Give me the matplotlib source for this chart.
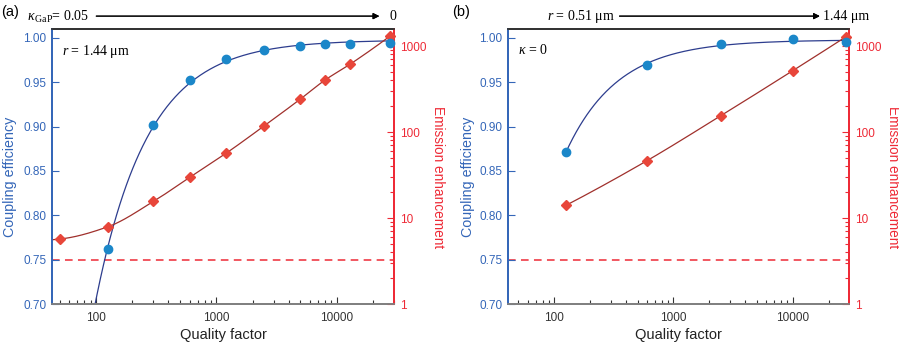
import numpy as np
import matplotlib
matplotlib.use("Agg")
import matplotlib.pyplot as plt
from matplotlib.ticker import FixedLocator, NullFormatter, LogLocator

plt.rcParams['font.family'] = ['Liberation Sans', 'DejaVu Sans']
plt.rcParams['mathtext.fontset'] = 'custom'
plt.rcParams['mathtext.rm'] = 'Liberation Serif'
plt.rcParams['mathtext.it'] = 'Liberation Serif:italic'

# panel (a): r = 1.44 um, kappa swept 0.05 -> 0
q_a = [125, 300, 600, 1200, 2500, 5000, 8000, 13000, 28000]
eff_a = [0.762, 0.902, 0.953, 0.976, 0.986, 0.991, 0.993, 0.993, 0.994]
q_a_em = [50, 125, 300, 600, 1200, 2500, 5000, 8000, 13000, 28000]
enh_a = [5.7, 7.9, 15.6, 29.7, 56.4, 118, 242, 402, 618, 1318]

# panel (b): kappa = 0, r swept 0.51 -> 1.44 um
q_b = [125, 600, 2500, 10000, 28000]
eff_b = [0.871, 0.969, 0.993, 0.9985, 0.995]
enh_b = [14.0, 46.4, 155, 516, 1283]

threshold = 0.75

C_AX_BLUE = '#3466b8'
C_AX_RED = '#ee2a36'
C_DOT_BLUE = '#1b87c9'
C_LINE_BLUE = '#2d3d8e'
C_DOT_RED = '#e8463a'
C_LINE_RED = '#a0302c'


def pchip(x, y, xn):
    # monotone cubic through the points, linear beyond the ends
    x = np.asarray(x, float); y = np.asarray(y, float)
    h = np.diff(x); d = np.diff(y) / h
    n = len(x)
    m = np.zeros(n)
    for k in range(1, n - 1):
        if d[k - 1] * d[k] <= 0:
            m[k] = 0
        else:
            w1 = 2 * h[k] + h[k - 1]; w2 = h[k] + 2 * h[k - 1]
            m[k] = (w1 + w2) / (w1 / d[k - 1] + w2 / d[k])
    def end(h0, h1, d0, d1):
        s = ((2 * h0 + h1) * d0 - h0 * d1) / (h0 + h1)
        if np.sign(s) != np.sign(d0):
            s = 0
        elif np.sign(d0) != np.sign(d1) and abs(s) > abs(3 * d0):
            s = 3 * d0
        return s
    m[0] = end(h[0], h[1], d[0], d[1])
    m[-1] = end(h[-1], h[-2], d[-1], d[-2])
    out = np.empty_like(xn)
    for i, xv in enumerate(xn):
        if xv <= x[0]:
            out[i] = y[0] + m[0] * (xv - x[0]); continue
        if xv >= x[-1]:
            out[i] = y[-1] + m[-1] * (xv - x[-1]); continue
        k = np.searchsorted(x, xv) - 1
        t = (xv - x[k]) / h[k]
        h00 = 2 * t**3 - 3 * t**2 + 1; h10 = t**3 - 2 * t**2 + t
        h01 = -2 * t**3 + 3 * t**2; h11 = t**3 - t**2
        out[i] = h00 * y[k] + h10 * h[k] * m[k] + h01 * y[k + 1] + h11 * h[k] * m[k + 1]
    return out


def fit_eff(q, eff, qn):
    # least squares eff = s - a/Q
    q = np.asarray(q, float)
    A = np.column_stack([np.ones_like(q), -1.0 / q])
    (s, a), *_ = np.linalg.lstsq(A, np.asarray(eff, float), rcond=None)
    return s - a / qn


def panel(rect, q, eff, q_em, enh, x0, x0_em, x1, xlim, lab_x):
    ax = fig.add_axes(rect)
    ax.set_xscale('log')
    ax.set_xlim(*xlim)
    ax.set_ylim(0.70, 1.010)

    qn = np.logspace(np.log10(x0), np.log10(x1), 400)
    ax.plot(qn, fit_eff(q, eff, qn), color=C_LINE_BLUE, lw=0.9, zorder=2)
    ax.axhline(threshold, color=C_AX_RED, lw=1.1, ls=(0, (5, 3.5)), zorder=1)

    ax2 = ax.twinx()
    ax2.set_yscale('log')
    ax2.set_ylim(1, 1580)
    lq2 = np.linspace(np.log10(x0_em), np.log10(x1), 400)
    ax2.plot(10**lq2, 10**pchip(np.log10(q_em), np.log10(enh), lq2),
             color=C_LINE_RED, lw=0.9, zorder=2)
    ax2.plot(q_em, enh, 'D', color=C_DOT_RED, ms=5.5, mec=C_DOT_RED, zorder=3, clip_on=False)
    ax2.plot(q, eff, 'o', color=C_DOT_BLUE, ms=6, transform=ax.transData, zorder=4, clip_on=False)

    ax.set_yticks([0.70, 0.75, 0.80, 0.85, 0.90, 0.95, 1.00])
    ax.set_yticklabels(['0.70', '0.75', '0.80', '0.85', '0.90', '0.95', '1.00'])
    ax.tick_params(axis='y', direction='in', colors=C_AX_BLUE, labelsize=8.5, length=5, width=0.8, pad=4)
    ax.tick_params(axis='x', which='both', direction='in', colors='#333333', labelsize=8.5, pad=6)
    ax.tick_params(axis='x', which='major', length=5, width=0.8)
    ax.tick_params(axis='x', which='minor', length=3, width=0.8)
    ax.xaxis.set_major_locator(FixedLocator([100, 1000, 10000]))
    ax.set_xticklabels(['100', '1000', '10000'])
    ax.xaxis.set_minor_locator(LogLocator(base=10, subs=np.arange(2, 10)))
    ax.xaxis.set_minor_formatter(NullFormatter())

    ax2.yaxis.set_major_locator(FixedLocator([1, 10, 100, 1000]))
    ax2.set_yticklabels(['1', '10', '100', '1000'])
    ax2.yaxis.set_minor_locator(LogLocator(base=10, subs=np.arange(2, 10)))
    ax2.yaxis.set_minor_formatter(NullFormatter())
    ax2.tick_params(axis='y', which='both', direction='in', colors=C_AX_RED, labelsize=8.5, width=0.8, pad=4)
    ax2.tick_params(axis='y', which='major', length=5)
    ax2.tick_params(axis='y', which='minor', length=3)

    for a in (ax, ax2):
        a.spines['left'].set_color(C_AX_BLUE)
        a.spines['right'].set_color(C_AX_RED)
        a.spines['bottom'].set_color('#808080')
        a.spines['top'].set_color('#333333')
        for s in a.spines.values():
            s.set_linewidth(1.3)
    ax.set_xlabel('Quality factor', fontsize=10.5, color='#222222', va='center')
    ax.xaxis.set_label_coords(0.5, -0.113)
    ax.set_ylabel('Coupling efficiency', fontsize=10.3, color=C_AX_BLUE, va='center')
    ax.yaxis.set_label_coords(lab_x[0], 0.462)
    ax2.set_ylabel('Emission enhancement', fontsize=9.8, color=C_AX_RED, rotation=270, va='center')
    ax2.yaxis.set_label_coords(lab_x[1], 0.462)
    return ax


fig = plt.figure(figsize=(8.99, 3.43), dpi=100)

ax_a = panel([0.0578, 0.1137, 0.3805, 0.8018], q_a, eff_a, q_a_em, enh_a, 60, 43, 30000,
             (43, 30000), (-0.123, 1.129))
ax_b = panel([0.5651, 0.1137, 0.3793, 0.8018], q_b, eff_b, q_b, enh_b, 125, 125, 29700,
             (41, 29700), (-0.117, 1.129))

fig.text(0.001, 0.965, '(a)', fontsize=10.5, va='center')
fig.text(0.503, 0.965, '(b)', fontsize=10.5, va='center')

fig.text(0.030, 0.951, r'$\mathit{\kappa}_{\,\mathrm{GaP}}$= 0.05', fontsize=10,
         va='center', family='Liberation Serif')
fig.add_artist(plt.annotate('', xy=(0.425, 0.953), xytext=(0.104, 0.953),
                            xycoords='figure fraction',
                            arrowprops=dict(arrowstyle='-|>', color='black', lw=0.8,
                                            mutation_scale=9)))
fig.text(0.433, 0.951, '0', fontsize=10, va='center', family='Liberation Serif')

fig.text(0.609, 0.951, r'$\mathit{r}$ = 0.51 μm', fontsize=10, va='center', family='Liberation Serif')
fig.add_artist(plt.annotate('', xy=(0.915, 0.953), xytext=(0.686, 0.953),
                            xycoords='figure fraction',
                            arrowprops=dict(arrowstyle='-|>', color='black', lw=0.8,
                                            mutation_scale=9)))
fig.text(0.916, 0.951, '1.44 μm', fontsize=10, va='center', family='Liberation Serif')

ax_a.text(0.03, 0.95, r'$\mathit{r}$ = 1.44 μm', transform=ax_a.transAxes, fontsize=10,
          va='top', family='Liberation Serif')
ax_b.text(0.03, 0.95, r'$\mathit{\kappa}$ = 0', transform=ax_b.transAxes, fontsize=10,
          va='top', family='Liberation Serif')

fig.savefig('out.png', dpi=100)
